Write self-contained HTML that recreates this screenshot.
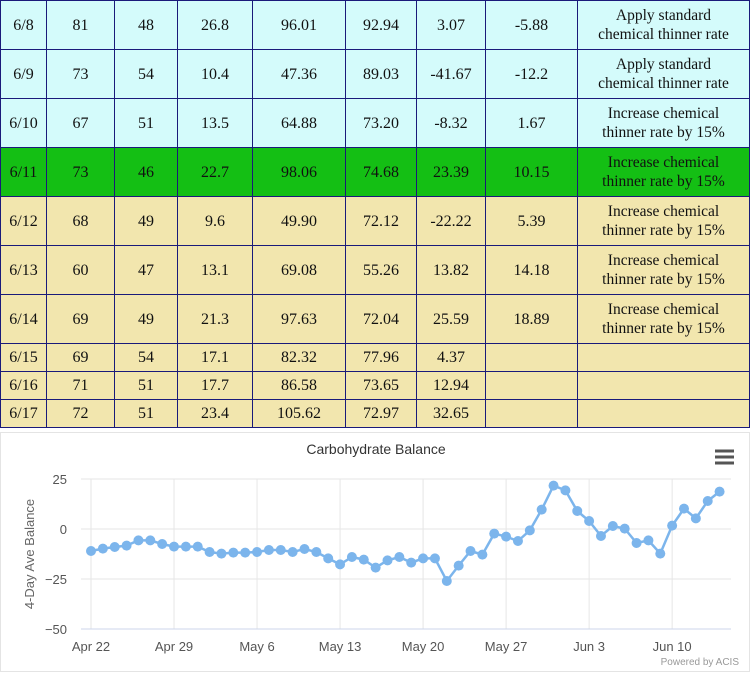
<!DOCTYPE html>
<html><head><meta charset="utf-8"><style>
body{margin:0;width:750px;height:672px;overflow:hidden;background:#fff;font-family:"Liberation Serif",serif}
table{position:absolute;left:0;top:0;border-collapse:collapse;width:750px;table-layout:fixed}
td{border:1px solid #1a1a7a;text-align:center;font-size:16px;color:#111;padding:0;line-height:19px}
tr.t td{height:48px}
tr.s td{height:27px}
.c{background:#d4fbfb}.g{background:#14bf14}.y{background:#f2e6ae}
td.n{font-size:15.5px;white-space:nowrap}
#chart{position:absolute;left:0;top:432px;width:748px;height:238px;border:1px solid #e4e4e4;background:#fff}
</style></head><body>
<table>
<colgroup><col style="width:46px"><col style="width:68px"><col style="width:63px"><col style="width:75px"><col style="width:93px"><col style="width:71px"><col style="width:69px"><col style="width:92px"><col></colgroup>
<tr class="t c"><td>6/8</td><td>81</td><td>48</td><td>26.8</td><td>96.01</td><td>92.94</td><td>3.07</td><td>-5.88</td><td class="n">Apply standard<br>chemical thinner rate</td></tr>
<tr class="t c"><td>6/9</td><td>73</td><td>54</td><td>10.4</td><td>47.36</td><td>89.03</td><td>-41.67</td><td>-12.2</td><td class="n">Apply standard<br>chemical thinner rate</td></tr>
<tr class="t c"><td>6/10</td><td>67</td><td>51</td><td>13.5</td><td>64.88</td><td>73.20</td><td>-8.32</td><td>1.67</td><td class="n">Increase chemical<br>thinner rate by 15%</td></tr>
<tr class="t g"><td>6/11</td><td>73</td><td>46</td><td>22.7</td><td>98.06</td><td>74.68</td><td>23.39</td><td>10.15</td><td class="n">Increase chemical<br>thinner rate by 15%</td></tr>
<tr class="t y"><td>6/12</td><td>68</td><td>49</td><td>9.6</td><td>49.90</td><td>72.12</td><td>-22.22</td><td>5.39</td><td class="n">Increase chemical<br>thinner rate by 15%</td></tr>
<tr class="t y"><td>6/13</td><td>60</td><td>47</td><td>13.1</td><td>69.08</td><td>55.26</td><td>13.82</td><td>14.18</td><td class="n">Increase chemical<br>thinner rate by 15%</td></tr>
<tr class="t y"><td>6/14</td><td>69</td><td>49</td><td>21.3</td><td>97.63</td><td>72.04</td><td>25.59</td><td>18.89</td><td class="n">Increase chemical<br>thinner rate by 15%</td></tr>
<tr class="s y"><td>6/15</td><td>69</td><td>54</td><td>17.1</td><td>82.32</td><td>77.96</td><td>4.37</td><td></td><td></td></tr>
<tr class="s y"><td>6/16</td><td>71</td><td>51</td><td>17.7</td><td>86.58</td><td>73.65</td><td>12.94</td><td></td><td></td></tr>
<tr class="s y"><td>6/17</td><td>72</td><td>51</td><td>23.4</td><td>105.62</td><td>72.97</td><td>32.65</td><td></td><td></td></tr>
</table>
<div id="chart">
<svg id="svg" width="748" height="238" viewBox="0 432 748 238" style="font-family:'Liberation Sans',sans-serif"></svg>
</div>
<script>
const values=[-11,-9.8,-9,-8.3,-5.7,-5.7,-7.5,-8.8,-8.8,-8.8,-11.5,-12.3,-11.8,-11.8,-11.5,-10.5,-10.5,-11.5,-10,-11.5,-14.7,-17.7,-14,-15.3,-19.3,-15.7,-14,-16.8,-14.7,-14.7,-26,-18.3,-11,-12.8,-2.3,-3.8,-6,-0.7,9.7,21.7,19.3,9,4,-3.5,1.5,0.2,-7,-5.7,-12.3,1.7,10.2,5.3,14,18.7];
const yTicks=[25,0,-25,-50];
const xTickLabels=["Apr 22","Apr 29","May 6","May 13","May 20","May 27","Jun 3","Jun 10"];
const xTickIdx=[0,7,14,21,28,35,42,49];
const NS="http://www.w3.org/2000/svg";
const svg=document.getElementById('svg');
function X(i){return 90+i*11.86;}
function Y(v){return 528-v*2;}
function mk(t,a,p){const e=document.createElementNS(NS,t);for(const k in a)e.setAttribute(k,a[k]);(p||svg).appendChild(e);return e;}
let t=mk('text',{x:375,y:453,'text-anchor':'middle','font-size':14,fill:'#333'});t.textContent='Carbohydrate Balance';


const menu=mk('g',{});


[450,456,462].forEach(y=>mk('rect',{x:714,y:y-1.5,width:19,height:3,fill:'#555'},menu));
yTicks.forEach(v=>{
  if(v>-50){const g=mk('line',{x1:80,x2:730,y1:Y(v),y2:Y(v),stroke:'#e6e6e6'});
  
  }
  const l=mk('text',{x:66,y:Y(v)+5,'text-anchor':'end','font-size':13,fill:'#555'});l.textContent=String(v).replace('-','\u2212');
  
  
});
xTickIdx.forEach((i,k)=>{
  const g=mk('line',{x1:X(i),x2:X(i),y1:478,y2:628,stroke:'#e6e6e6'});
  
  
  const l=mk('text',{x:X(i),y:650,'text-anchor':'middle','font-size':13,fill:'#555'});l.textContent=xTickLabels[k];
  
  
});
const ax=mk('line',{x1:80,x2:730,y1:Y(-50),y2:Y(-50),stroke:'#ccd6eb'});


const yt=mk('text',{transform:'translate(33,553) rotate(-90)','text-anchor':'middle','font-size':13,fill:'#666'});yt.textContent='4-Day Ave Balance';


const pl=mk('polyline',{points:values.map((v,i)=>X(i)+','+Y(v)).join(' '),fill:'none',stroke:'#7cb5ec','stroke-width':2.5});


values.forEach((v,i)=>{const c=mk('circle',{cx:X(i),cy:Y(v),r:5,fill:'#7cb5ec'});

});
const cr=mk('text',{x:738,y:664,'text-anchor':'end','font-size':10,fill:'#999'});cr.textContent='Powered by ACIS';


</script>
</body></html>
